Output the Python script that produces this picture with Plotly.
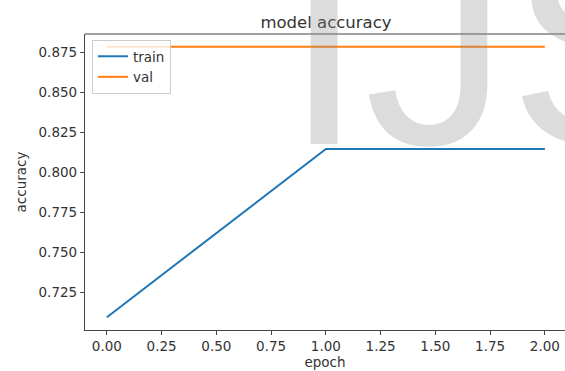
import plotly.graph_objects as go

epochs = [0, 1, 2]
train_acc = [0.7097, 0.8148, 0.8148]
val_acc = [0.8787, 0.8787, 0.8787]
x_ticks = [0, 0.25, 0.5, 0.75, 1.0, 1.25, 1.5, 1.75, 2.0]
x_ticklabels = ["0.00", "0.25", "0.50", "0.75", "1.00", "1.25", "1.50", "1.75", "2.00"]
y_ticks = [0.725, 0.75, 0.775, 0.8, 0.825, 0.85, 0.875]
y_ticklabels = ["0.725", "0.750", "0.775", "0.800", "0.825", "0.850", "0.875"]

W, H = 565, 371
ML, MR, MT, MB = 85, 0, 34, 41
FONT = "DejaVu Sans"
TXT = "#333333"

fig = go.Figure()
fig.add_trace(go.Scatter(x=epochs, y=train_acc, mode="lines", name="train",
                         line=dict(color="#1f77b4", width=2)))
fig.add_trace(go.Scatter(x=epochs, y=val_acc, mode="lines", name="val",
                         line=dict(color="#ff7f0e", width=2)))

axis_common = dict(showgrid=False, zeroline=False, showline=True, linecolor="#444444",
                   linewidth=1.2, ticks="outside", ticklen=4, tickwidth=1.2,
                   tickcolor="#444444", tickfont=dict(family=FONT, size=13.5, color=TXT))

fig.update_xaxes(range=[-0.1, 2.092], tickvals=x_ticks, ticktext=x_ticklabels,
                 title=dict(text="epoch", font=dict(family=FONT, size=13.5, color=TXT), standoff=4),
                 **axis_common)
fig.update_yaxes(range=[0.7017, 0.8867], tickvals=y_ticks, ticktext=y_ticklabels,
                 title=dict(text="accuracy", font=dict(family=FONT, size=13.5, color=TXT), standoff=8),
                 **axis_common)

# top spine
fig.add_shape(type="line", xref="paper", yref="paper", x0=0, x1=1, y0=1, y1=1,
              line=dict(color="#444444", width=1.2))

# watermark
fig.add_annotation(text="IJS", xref="paper", yref="paper", x=(282 - ML) / 480, y=(330 - 207) / 296,
                   xanchor="left", yanchor="bottom", showarrow=False,
                   font=dict(family="Liberation Sans", size=289, color="rgba(140,140,140,0.3)"))

fig.update_layout(
    width=W, height=H,
    margin=dict(l=ML, r=MR, t=MT, b=MB),
    paper_bgcolor="white", plot_bgcolor="white",
    title=dict(text="model accuracy", x=326 / W, xanchor="center", y=1 - 22 / H, yanchor="middle",
               yref="container", font=dict(family=FONT, size=16.5, color=TXT)),
    legend=dict(x=7 / 480, y=1 - 6 / 296, xanchor="left", yanchor="top",
                bgcolor="rgba(255,255,255,0.8)", bordercolor="#cccccc", borderwidth=1,
                font=dict(family=FONT, size=13.5, color=TXT), tracegroupgap=0),
    showlegend=True,
)

fig.write_html("out.html")
